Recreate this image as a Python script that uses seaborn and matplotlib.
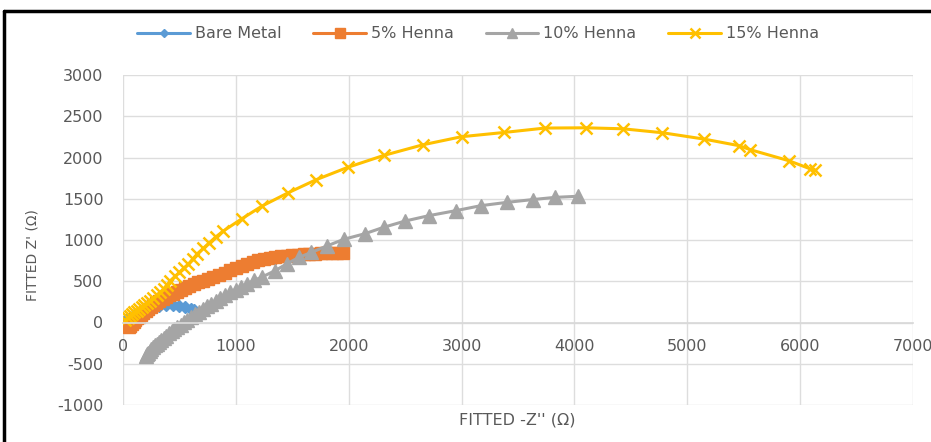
import numpy as np
import pandas as pd
import seaborn as sns
import matplotlib.pyplot as plt
from matplotlib.lines import Line2D

# Nyquist data (-Z'' on x, Z' on y)
bare_x = [10, 30, 60, 100, 150, 200, 260, 320, 380, 440, 500, 550, 600, 630]
bare_y = [5, 30, 60, 95, 130, 160, 185, 200, 210, 210, 200, 185, 165, 150]

henna5_x = [50, 65, 80, 95, 110, 125, 140, 160, 180, 200, 220, 245, 270, 295, 320, 350,
            380, 410, 440, 475, 510, 545, 585, 625, 665, 710, 755, 800, 850, 900, 950,
            1000, 1050, 1100, 1150, 1200, 1250, 1300, 1350, 1400, 1450, 1500, 1550, 1600,
            1650, 1700, 1750, 1800, 1850, 1900, 1950]
henna5_y = [-60, -40, -15, 5, 30, 50, 70, 90, 112, 135, 158, 182, 208, 232, 255, 280,
            305, 328, 350, 372, 395, 418, 440, 462, 485, 508, 530, 555, 580, 605, 635,
            665, 690, 715, 738, 758, 772, 785, 795, 805, 812, 818, 823, 828,
            832, 835, 837, 838, 839, 840, 840]

henna10_x = [200, 210, 222, 235, 250, 265, 282, 300, 318, 338, 360, 382, 405, 430, 455, 482,
             510, 540, 570, 602, 635, 670, 705, 742, 780, 820, 862, 905, 950, 998, 1048,
             1100, 1160, 1230, 1350, 1450, 1560, 1670, 1810, 1960, 2140, 2310, 2500, 2710,
             2950, 3170, 3400, 3630, 3830, 4030]
henna10_y = [-400, -385, -365, -345, -322, -300, -278, -255, -232, -208, -183, -158, -133, -107, -80, -53,
             -25, 5, 35, 65, 97, 130, 162, 195, 228, 262, 296, 330, 365, 400, 435,
             470, 510, 550, 630, 710, 790, 850, 930, 1010, 1075, 1154, 1230, 1295,
             1356, 1416, 1456, 1490, 1517, 1530]

henna15_x = [20, 40, 60, 80, 100, 120, 140, 165, 190, 215, 240, 270, 300, 330, 360, 390,
             420, 460, 500, 540, 580, 620, 660, 710, 760, 820, 890, 1050, 1230,
             1460, 1710, 1990, 2310, 2660, 3000, 3380, 3740, 4100, 4430, 4780, 5150, 5460,
             5560, 5900, 6090, 6130]
henna15_y = [30, 55, 80, 102, 125, 145, 166, 188, 210, 238, 266, 298, 330, 368, 408, 455,
             508, 558, 609, 660, 710, 772, 835, 898, 960, 1035, 1110, 1255, 1410,
             1570, 1730, 1880, 2025, 2155, 2252, 2304, 2357, 2360, 2348, 2300, 2223, 2143,
             2094, 1961, 1862, 1848]

series = [
    ("Bare Metal", bare_x, bare_y, "#5B9BD5", "D", 6),
    ("5% Henna", henna5_x, henna5_y, "#ED7D31", "s", 9),
    ("10% Henna", henna10_x, henna10_y, "#A5A5A5", "^", 9.5),
    ("15% Henna", henna15_x, henna15_y, "#FFC000", "x", 9),
]

sns.set_theme(style="white")
plt.rcParams['font.family'] = ['DejaVu Sans']
plt.rcParams['axes.unicode_minus'] = False

fig = plt.figure(figsize=(9.31, 4.42), dpi=100)
ax = fig.add_axes([123/931, 1 - 405/442, 790/931, 330/442])

for name, xs, ys, col, mk, ms in series:
    df = pd.DataFrame({"x": xs, "y": ys})
    sns.lineplot(data=df, x="x", y="y", sort=False, ax=ax, color=col, linewidth=2.2,
                 marker=mk, markersize=ms, markeredgecolor=col, markerfacecolor=col,
                 markeredgewidth=1.8 if mk == "x" else 1, label=name)

ax.set_xlim(0, 7000)
ax.set_ylim(-1000, 3000)
ax.set_xticks(np.arange(0, 7001, 1000))
ax.set_yticks(np.arange(-1000, 3001, 500))
ax.grid(True, color="#DDDDDD", linewidth=1)
ax.set_axisbelow(True)
for s in ["top", "right", "left"]:
    ax.spines[s].set_visible(False)
ax.spines["bottom"].set_position(("data", 0))
ax.spines["bottom"].set_color("#D9D9D9")
ax.tick_params(axis="both", length=0, labelsize=11.5, labelcolor="#595959")
ax.tick_params(axis="y", pad=14)
ax.tick_params(axis="x", pad=12)
ax.set_xlabel("")
ax.set_ylabel("")

fig.text(33/931, 1 - 255/442, "FITTED Z' (\u03a9)", rotation=90, ha="center", va="center",
         fontsize=10, color="#595959")
fig.text(517/931, 1 - 420/442, "FITTED -Z'' (\u03a9)", ha="center", va="center",
         fontsize=11.5, color="#595959")

ax.legend(loc="center", bbox_to_anchor=(478/931, 1 - 34/442), bbox_transform=fig.transFigure,
          ncol=4, frameon=False, fontsize=11.5, handlelength=3.3, columnspacing=2.0,
          handletextpad=0.3, markerscale=0.75, labelcolor="#595959")

# cropped chart border (top and left)
fig.add_artist(Line2D([4/931, 1], [1 - 11/442, 1 - 11/442], color="black", linewidth=2.5,
                      transform=fig.transFigure))
fig.add_artist(Line2D([4/931, 4/931], [0, 1 - 11/442], color="black", linewidth=2.5,
                      transform=fig.transFigure))

fig.savefig("out.png", dpi=100, facecolor="white")
